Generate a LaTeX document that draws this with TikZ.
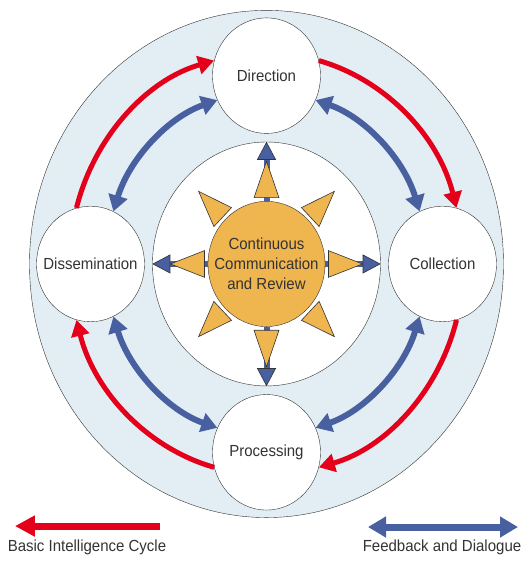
\documentclass[tikz,border=0pt]{standalone}
\usepackage{fontspec}
\setmainfont{Liberation Sans}
\usetikzlibrary{arrows.meta}
\definecolor{ringblue}{RGB}{226,238,243}
\definecolor{sunorange}{RGB}{239,181,79}
\definecolor{cyclered}{RGB}{228,0,27}
\definecolor{talkblue}{RGB}{72,96,160}
\definecolor{linegray}{RGB}{51,51,51}

\begin{document}
\begin{tikzpicture}[x=1pt, y=1pt, yscale=1.07, transform shape,
    ringnode/.style={circle, draw=linegray, fill=ringblue, minimum size=474pt, inner sep=0pt},
    hubnode/.style={circle, draw=linegray, fill=white, minimum size=228pt, inner sep=0pt},
    stagenode/.style={circle, draw=linegray, fill=white, minimum size=108pt, inner sep=0pt, font=\fontsize{15}{18}\selectfont, text=linegray},
    corenode/.style={circle, draw=linegray, fill=sunorange, minimum size=117pt, inner sep=0pt, align=center, font=\fontsize{15}{18.7}\selectfont, text=linegray},
    cyclearrow/.style={cyclered, line width=5pt, -{Triangle[length=16pt, width=18pt]}, bend left=30, looseness=0.91},
    feedarrow/.style={talkblue, line width=6pt, {Triangle[length=16pt, width=19pt]}-{Triangle[length=16pt, width=19pt]}, bend left=27, looseness=0.9},
    spokearrow/.style={talkblue, line width=6pt, -{Triangle[length=18pt, width=19pt, line width'=0.6pt, fill=talkblue, color=linegray]}},
    sunray/.style={draw=linegray, fill=sunorange, line width=0.6pt},
    keytext/.style={font=\fontsize{15}{18}\selectfont, text=linegray}
]
    \useasboundingbox (-266.5,-280.4) rectangle (261.5,246.7);

    \node[ringnode] (ring) at (0,0) {};
    \node[hubnode] (hub) at (0,0) {};

    \node[stagenode] (dir) at (90:176) {Direction};
    \node[stagenode] (col) at (0:176) {Collection};
    \node[stagenode] (proc) at (270:176) {Processing};
    \node[stagenode] (dis) at (180:176) {Dissemination};

    \draw[cyclearrow] (dir.15) to (col.75);
    \draw[cyclearrow] (col.-75) to (proc.-15);
    \draw[cyclearrow] (proc.-165) to (dis.-105);
    \draw[cyclearrow] (dis.105) to (dir.165);

    \draw[feedarrow] (dir.-25) to (col.115);
    \draw[feedarrow] (col.-115) to (proc.25);
    \draw[feedarrow] (proc.155) to (dis.-65);
    \draw[feedarrow] (dis.65) to (dir.-155);

    \node[corenode] (core) at (0,0) {Continuous\\Communication\\and Review};
    \foreach \s in {north,east,south,west}
        \draw[spokearrow] (core.\s) -- (hub.\s);
    \foreach \a in {0,45,...,315}
        \draw[sunray] (\a:96) -- ({\a+11.4}:63.2) -- ({\a-11.4}:63.2) -- cycle;

    \coordinate (redtail) at (-106.5,-244.9);
    \coordinate (redtip) at (-251.5,-244.9);
    \draw[cyclered, line width=7pt, -{Triangle[length=20pt, width=20pt]}] (redtail) -- (redtip);
    \coordinate (blueleft) at (101.5,-245.8);
    \coordinate (blueright) at (251.5,-245.8);
    \draw[talkblue, line width=7pt, {Triangle[length=18pt, width=20pt]}-{Triangle[length=18pt, width=20pt]}] (blueleft) -- (blueright);

    \node[keytext] (cyclelabel) at (-179.5,-264.5) {Basic Intelligence Cycle};
    \node[keytext] (feedlabel) at (175.5,-264.5) {Feedback and Dialogue};
\end{tikzpicture}
\end{document}
